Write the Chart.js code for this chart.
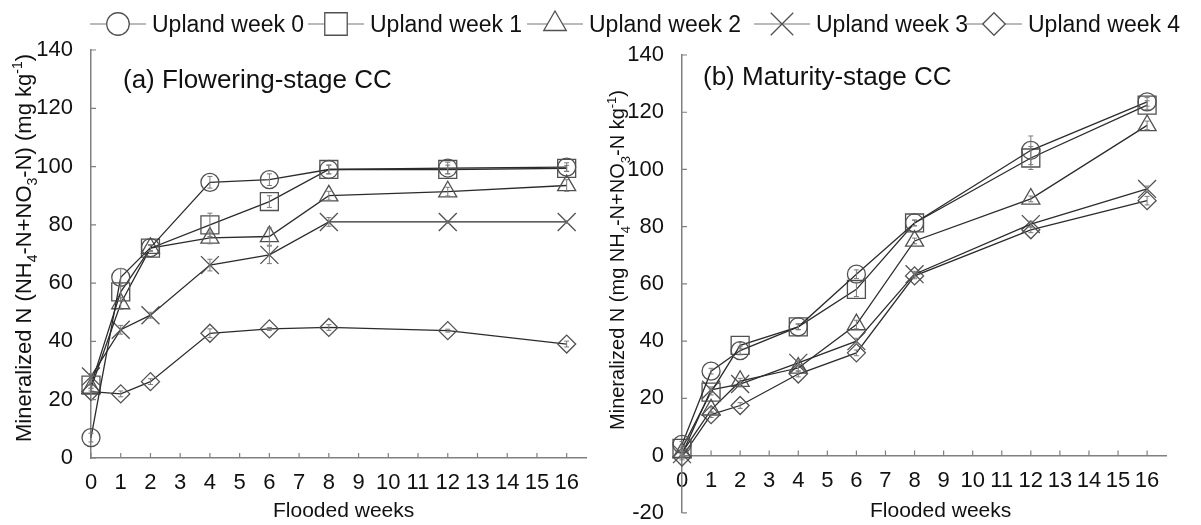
<!DOCTYPE html>
<html>
<head>
<meta charset="utf-8">
<script src="https://cdn.jsdelivr.net/npm/chart.js@4.4.1/dist/chart.umd.min.js"></script>
<style>
  html, body { margin: 0; padding: 0; background: #fff; }
  #wrap { position: relative; width: 1201px; height: 525px; overflow: hidden;
          font-family: 'Liberation Sans', Arial, sans-serif; }
  #chartA { position: absolute; left: 0; top: 0; }
  #chartB { position: absolute; left: 600px; top: 0; }
  .lg { position: absolute; top: 4px; height: 40px; display: flex; align-items: center;
        font-size: 23px; color: #111; white-space: nowrap; }
  .lg canvas { margin-right: 6px; }
</style>
</head>
<body>
<div id="wrap">
  <canvas id="chartA" width="600" height="525"></canvas>
  <!-- taller than the window: the crossing x axis still reserves ~19px below -->
  <canvas id="chartB" width="601" height="544"></canvas>
  <div id="legend"></div>
</div>
<script>
// ── Data ──────────────────────────────────────────────────────
const weeks   = [0, 1, 2, 4, 6, 8, 12, 16];
const xTicks  = [0, 1, 2, 3, 4, 5, 6, 7, 8, 9, 10, 11, 12, 13, 14, 15, 16];
const seriesNames = ['Upland week 0', 'Upland week 1', 'Upland week 2', 'Upland week 3', 'Upland week 4'];

// (a) Flowering-stage CC
const flowering0 = [7, 62, 72.2, 94.6, 95.5, 99, 99.5, 99.8];
const flowering1 = [25, 57, 72, 80, 88, 99, 99, 99.4];
const flowering2 = [24, 53, 72, 75.5, 76, 90, 91.4, 93.5];
const flowering3 = [28, 44, 49, 66.2, 69.7, 81, 81, 81];
const flowering4 = [22.8, 22, 26.2, 42.8, 44.3, 44.8, 43.7, 39.1];

const floweringErr0 = [1.5, 3, 1, 2, 2, 1.5, 2, 1.5];
const floweringErr1 = [1, 3, 1, 4, 2, 1.5, 1.5, 1];
const floweringErr2 = [1, 2, 1, 2, 3, 1.5, 1.5, 2];
const floweringErr3 = [1, 1.5, 1, 2, 3, 1.5, 0.5, 0.5];
const floweringErr4 = [1, 1, 1, 1.5, 0.5, 1, 0.5, 1];

// (b) Maturity-stage CC
const maturity0 = [3.9, 29.5, 36.7, 45, 63.4, 81.3, 106.7, 123.6];
const maturity1 = [2.5, 22.2, 38.5, 45, 58.1, 81.3, 104, 122.5];
const maturity2 = [1, 16, 26, 30.6, 45.8, 75, 89.7, 115.4];
const maturity3 = [0.5, 23, 25, 32.4, 40, 63.4, 80.9, 93.2];
const maturity4 = [-0.5, 14.3, 17.5, 28.5, 35.9, 62.8, 78.9, 89.1];

const maturityErr0 = [1, 1, 1.5, 1, 1.5, 1, 5, 1.5];
const maturityErr1 = [1, 1, 1, 1, 2.5, 1, 4, 1.5];
const maturityErr2 = [1, 1, 1, 1, 1.5, 1, 1, 1.5];
const maturityErr3 = [1, 1, 1, 1, 1, 1, 1, 1];
const maturityErr4 = [1, 1, 1, 1, 1, 1, 1, 1.5];

// ── Styles ────────────────────────────────────────────────────
const FONT       = "'Liberation Sans', Arial, sans-serif";
const TEXT       = '#111';
const AXIS       = '#808080';
const LINE       = '#2b2b2b';
const MARK       = '#505050';
const markerStyles = ['circle', 'rect', 'triangle', 'crossRot', 'rectRot'];
const markerRadius = [9, 12.7, 10.4, 12.7, 9];
const legendLeft   = [90, 308, 527, 754, 966];

Chart.defaults.font.family = FONT;
Chart.defaults.color = TEXT;

// ── Rich text (sub/superscripts) ──────────────────────────────
const drawRich = (ctx, it) => {
  const small = Math.round(it.size * 0.65);
  const fontOf = s => `${(s.sub || s.sup) ? small : it.size}px ${FONT}`;
  ctx.save();
  ctx.translate(it.x, it.y);
  if (it.rotate) ctx.rotate(-Math.PI / 2);
  let total = 0;
  it.segs.forEach(s => { ctx.font = fontOf(s); total += ctx.measureText(s.t).width; });
  let cx = it.align === 'center' ? -total / 2 : 0;
  ctx.fillStyle = TEXT;
  ctx.textBaseline = 'alphabetic';
  ctx.textAlign = 'left';
  it.segs.forEach(s => {
    ctx.font = fontOf(s);
    const dy = s.sub ? it.size * 0.28 : s.sup ? -it.size * 0.42 : 0;
    ctx.fillText(s.t, cx, dy);
    cx += ctx.measureText(s.t).width;
  });
  ctx.restore();
};

const textPlugin = (items) => ({
  id: 'panelText',
  afterDraw(chart) { items.forEach(it => drawRich(chart.ctx, it)); }
});

// inward tick marks + error bars
const innerTicks = {
  id: 'innerTicks',
  afterDraw(chart) {
    const { ctx, chartArea, scales: { x, y } } = chart;
    const y0 = y.getPixelForValue(0);
    ctx.save();
    ctx.strokeStyle = AXIS;
    ctx.lineWidth = 1.2;
    ctx.beginPath();
    x.ticks.forEach(t => {
      const px = x.getPixelForValue(t.value);
      ctx.moveTo(px, y0); ctx.lineTo(px, y0 - 5);
    });
    y.ticks.forEach(t => {
      const py = y.getPixelForValue(t.value);
      ctx.moveTo(chartArea.left, py); ctx.lineTo(chartArea.left + 5, py);
    });
    ctx.stroke();
    ctx.restore();
  }
};

const errorBars = {
  id: 'errorBars',
  afterDatasetsDraw(chart) {
    const { ctx, scales: { x, y } } = chart;
    ctx.save();
    ctx.strokeStyle = '#7a7a7a';
    ctx.lineWidth = 1;
    chart.data.datasets.forEach(ds => {
      if (!ds.errors) return;
      ds.data.forEach((p, i) => {
        const e = ds.errors[i];
        const px = x.getPixelForValue(p.x);
        const top = y.getPixelForValue(p.y + e);
        const bot = y.getPixelForValue(p.y - e);
        ctx.beginPath();
        ctx.moveTo(px, top); ctx.lineTo(px, bot);
        ctx.moveTo(px - 2.5, top); ctx.lineTo(px + 2.5, top);
        ctx.moveTo(px - 2.5, bot); ctx.lineTo(px + 2.5, bot);
        ctx.stroke();
      });
    });
    ctx.restore();
  }
};

// ── Datasets ──────────────────────────────────────────────────
const makeSets = (series, errs) => series.map((vals, i) => ({
  label:                seriesNames[i],
  data:                 weeks.map((w, j) => ({ x: w, y: vals[j] })),
  errors:               errs[i],
  borderColor:          LINE,
  borderWidth:          1.3,
  pointStyle:           markerStyles[i],
  pointRadius:          markerRadius[i],
  pointHoverRadius:     markerRadius[i],
  pointBorderColor:     MARK,
  pointBackgroundColor: 'rgba(0,0,0,0)',
  pointBorderWidth:     1.3,
  tension:              0,
  fill:                 false,
  clip:                 false,
}));

const tickFont = { size: 22, family: FONT };

const makeOptions = ({ yMin, yWidth, xHeight, pad, xPos }) => ({
  responsive: false,
  animation:  false,
  events:     [],
  layout:     { padding: pad },
  plugins:    { legend: { display: false }, tooltip: { enabled: false } },
  scales: {
    x: {
      type: 'linear',
      position: xPos,
      min: 0,
      max: 16.65,
      afterBuildTicks: s => { s.ticks = xTicks.map(v => ({ value: v })); },
      afterFit: s => { s.height = xHeight; },
      grid:   { display: false, drawTicks: false },
      border: { display: true, color: AXIS, width: 1.5 },
      ticks:  { font: tickFont, color: TEXT, padding: 12, maxRotation: 0, autoSkip: false },
    },
    y: {
      min: yMin,
      max: 140,
      afterFit: s => { s.width = yWidth; },
      grid:   { display: false, drawTicks: false },
      border: { display: true, color: AXIS, width: 1.5 },
      ticks:  { font: tickFont, color: TEXT, padding: 18, stepSize: 20 },
    }
  }
});

// ── (a) Flowering-stage ───────────────────────────────────────
new Chart(document.getElementById('chartA'), {
  type: 'line',
  data: {
    datasets: makeSets(
      [flowering0, flowering1, flowering2, flowering3, flowering4],
      [floweringErr0, floweringErr1, floweringErr2, floweringErr3, floweringErr4])
  },
  options: makeOptions({ yMin: 0, yWidth: 91, xHeight: 67, pad: { left: 0, right: 8, top: 50, bottom: 0 }, xPos: 'bottom' }),
  plugins: [innerTicks, errorBars, textPlugin([
    { x: 123, y: 88, size: 26, segs: [{ t: '(a) Flowering-stage CC' }] },
    { x: 273, y: 517, size: 21, segs: [{ t: 'Flooded weeks' }] },
    { x: 31, y: 248, size: 22, rotate: true, align: 'center', segs: [
      { t: 'Mineralized N (NH' }, { t: '4', sub: true }, { t: '-N+NO' }, { t: '3', sub: true },
      { t: '-N) (mg kg' }, { t: '-1', sup: true }, { t: ')' }] },
  ])]
});

// ── (b) Maturity-stage ────────────────────────────────────────
new Chart(document.getElementById('chartB'), {
  type: 'line',
  data: {
    datasets: makeSets(
      [maturity0, maturity1, maturity2, maturity3, maturity4],
      [maturityErr0, maturityErr1, maturityErr2, maturityErr3, maturityErr4])
  },
  options: makeOptions({ yMin: -20, yWidth: 82, xHeight: 0, pad: { left: 0, right: 35, top: 55, bottom: 14 }, xPos: { y: 0 } }),
  plugins: [innerTicks, errorBars, textPlugin([
    { x: 103, y: 85, size: 26, segs: [{ t: '(b) Maturity-stage CC' }] },
    { x: 270, y: 517, size: 21, segs: [{ t: 'Flooded weeks' }] },
    { x: 24, y: 260, size: 20, rotate: true, align: 'center', segs: [
      { t: 'Mineralized N (mg NH' }, { t: '4', sub: true }, { t: '-N+NO' }, { t: '3', sub: true },
      { t: '-N kg' }, { t: '-1', sup: true }, { t: ')' }] },
  ])]
});

// ── Legend (line + marker, then label) ────────────────────────
const legend = document.getElementById('legend');
seriesNames.forEach((name, i) => {
  const item = document.createElement('div');
  item.className = 'lg';
  item.style.left = legendLeft[i] + 'px';
  const c = document.createElement('canvas');
  c.width = 56; c.height = 40;
  const ctx = c.getContext('2d');
  ctx.strokeStyle = '#777';
  ctx.lineWidth = 1.2;
  ctx.beginPath(); ctx.moveTo(0, 20); ctx.lineTo(56, 20); ctx.stroke();
  ctx.fillStyle = '#fff';
  ctx.strokeStyle = MARK;
  ctx.lineWidth = 1.3;
  if (Chart.helpers && Chart.helpers.drawPoint) {
    Chart.helpers.drawPoint(ctx, { pointStyle: markerStyles[i], radius: markerRadius[i] * 1.25, rotation: 0, borderWidth: 1.3 }, 28, 20);
  } else {
    ctx.beginPath(); ctx.arc(28, 20, markerRadius[i] * 1.25, 0, Math.PI * 2); ctx.fill(); ctx.stroke();
  }
  const span = document.createElement('span');
  span.textContent = name;
  item.appendChild(c);
  item.appendChild(span);
  legend.appendChild(item);
});
</script>
</body>
</html>
